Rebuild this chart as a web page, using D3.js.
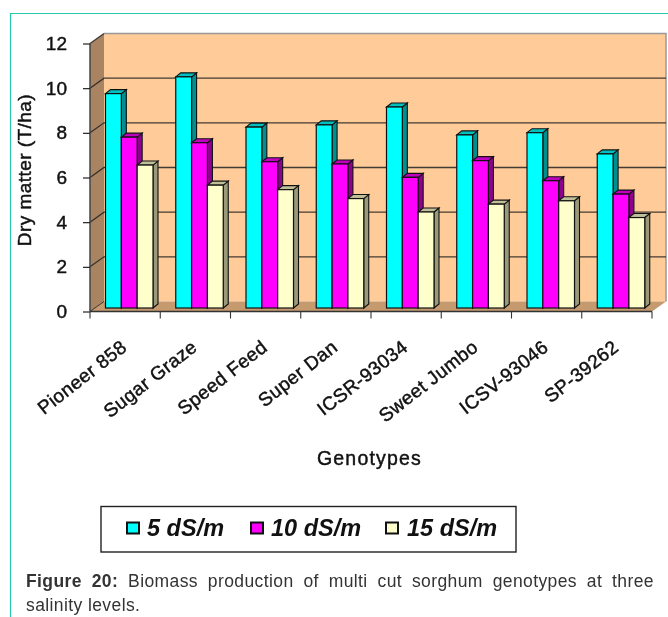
<!DOCTYPE html>
<html><head><meta charset="utf-8">
<script src="https://cdn.jsdelivr.net/npm/d3@7/dist/d3.min.js"></script>
<style>html,body{margin:0;padding:0;background:#fff}svg{display:block;filter:blur(0.35px)}text{font-family:"Liberation Sans",Arial,sans-serif;fill:#111}.m{stroke:#111;stroke-width:.45px}</style>
</head><body><div id="c"></div>
<script>
const genotypes=["Pioneer 858","Sugar Graze","Speed Feed","Super Dan","ICSR-93034","Sweet Jumbo","ICSV-93046","SP-39262"];
const s5=[9.6,10.35,8.1,8.2,9.0,7.75,7.85,6.9];
const s10=[7.65,7.4,6.55,6.45,5.85,6.6,5.7,5.1];
const s15=[6.4,5.5,5.3,4.9,4.3,4.65,4.8,4.05];
const seriesNames=["5 dS/m","10 dS/m","15 dS/m"];
const yTicks=[0,2,4,6,8,10,12];
const seriesValues=[s5,s10,s15];
const front=["#00FFFF","#FF00FF","#FFFFCC"],top_=["#00BFBF","#BF00BF","#BFBF99"],side=["#008F8F","#8F008F","#9A9A7A"];

const svg=d3.select("#c").append("svg").attr("width",668).attr("height",617);
const DX=14,DY=10,bdx=5,bdy=4,offY=3.5;
const y=d3.scaleLinear().domain([0,12]).range([311.5,43.5]);
const x=d3.scaleBand().domain(genotypes).range([90,652]);
const sub=d3.scaleBand().domain([0,1,2]).range([15.5,63]);
const x0=x.range()[0],x1=x.range()[1],y0=y(0),y12=y(12);
const poly=(pts,fill,stroke,sw)=>svg.append("polygon").attr("points",pts.map(p=>p.join(",")).join(" ")).attr("fill",fill).attr("stroke",stroke||"none").attr("stroke-width",sw||0);

svg.append("path").attr("d","M10.5,617V13.5H668").attr("fill","none").attr("stroke","#2CC6AE").attr("stroke-width",1.2);
poly([[x0+DX,y12-DY],[x1+DX,y12-DY],[x1+DX,y0-DY],[x0+DX,y0-DY]],"#FFCC99");
poly([[x0,y12],[x0+DX,y12-DY],[x0+DX,y0-DY],[x0,y0]],"#A98463");
poly([[x0,y0],[x0+DX,y0-DY],[x1+DX,y0-DY],[x1,y0]],"#C49A6E");
svg.append("path").attr("d",`M${x0+DX},${y12-DY}H${x1+DX}V${y0-DY}`).attr("fill","none").attr("stroke","#999").attr("stroke-width",1.5);
yTicks.filter(t=>t>0).forEach(t=>{
  svg.append("path").attr("d",`M${x0},${y(t)}L${x0+DX},${y(t)-DY}`+(t<12?`H${x1+DX}`:"")).attr("fill","none").attr("stroke","#222").attr("stroke-width",1.3).attr("stroke-opacity",.85);
});
svg.append("path").attr("d",`M${x0},${y0}L${x0+DX},${y0-DY}`).attr("stroke","#333").attr("fill","none");
genotypes.forEach((g,i)=>{
  [0,1,2].forEach(k=>{
    const v=seriesValues[k][i],l=x(g)+sub(k),w=sub.bandwidth(),b=y0-offY,t=y(v)-offY,r=l+w;
    poly([[r,t],[r+bdx,t-bdy],[r+bdx,b-bdy],[r,b]],side[k],"#111",1.1);
    poly([[l,t],[l+bdx,t-bdy],[r+bdx,t-bdy],[r,t]],top_[k],"#111",1.1);
    svg.append("rect").attr("x",l).attr("y",t).attr("width",w).attr("height",b-t).attr("fill",front[k]).attr("stroke","#111").attr("stroke-width",1.2);
  });
});
const gy=svg.append("g").attr("transform",`translate(${x0},0)`).call(d3.axisLeft(y).tickValues(yTicks).tickSize(7).tickPadding(16));
gy.selectAll("text").attr("class","m").style("font-size","19px").style("font-family",'"Liberation Sans"');
gy.select(".domain").attr("stroke","#444").attr("stroke-width",1.5).attr("d",`M0,${y12}V${y0}`);
gy.selectAll(".tick line").attr("stroke","#222").attr("stroke-width",1.2);
const tickPos=genotypes.map(g=>x(g)).concat([x1]);
svg.append("line").attr("x1",x0).attr("x2",x1).attr("y1",y0).attr("y2",y0).attr("stroke","#333").attr("stroke-width",1.5);
tickPos.forEach(p=>svg.append("line").attr("x1",p).attr("x2",p).attr("y1",y0).attr("y2",y0+7).attr("stroke","#333").attr("stroke-width",1.1));
genotypes.forEach(g=>{
  const cx=x(g)+x.bandwidth()/2;
  svg.append("text").attr("class","m").attr("text-anchor","end").attr("transform",`translate(${cx+3},${y0+38}) rotate(-38)`).style("font-size","19px").style("letter-spacing","0.4px").text(g);
});
svg.append("text").attr("class","m").attr("transform","translate(31,170) rotate(-90)").attr("text-anchor","middle").style("font-size","19px").style("letter-spacing","0.45px").text("Dry matter (T/ha)");
svg.append("text").attr("class","m").attr("x",369.5).attr("y",465).attr("text-anchor","middle").style("font-size","19.5px").style("letter-spacing","1.2px").text("Genotypes");
svg.append("rect").attr("x",101).attr("y",506.5).attr("width",415).attr("height",45.5).attr("fill","#fff").attr("stroke","#222").attr("stroke-width",1.4);
const lx=[127,251,386],tx=[147,271,407];
seriesNames.forEach((n,k)=>{
  svg.append("rect").attr("x",lx[k]).attr("y",522.5).attr("width",12).attr("height",11).attr("fill",front[k]).attr("stroke","#111").attr("stroke-width",2);
  svg.append("text").attr("x",tx[k]).attr("y",536).style("font-size","23.5px").style("font-weight","bold").style("font-style","italic").text(n);
});
const capStyle=t=>t.style("font-size","17.5px").style("fill","#333").style("letter-spacing","0.4px");
const cap=svg.append("text").attr("x",26).attr("y",587).call(capStyle);
cap.append("tspan").style("font-weight","bold").text("Figure 20:");
cap.append("tspan").text(" Biomass production of multi cut sorghum genotypes at three");
const len=cap.node().getComputedTextLength();
cap.style("word-spacing",Math.max(0,(654-26-len)/10)+"px");
svg.append("text").attr("x",26).attr("y",611).call(capStyle).text("salinity levels.");
</script></body></html>
